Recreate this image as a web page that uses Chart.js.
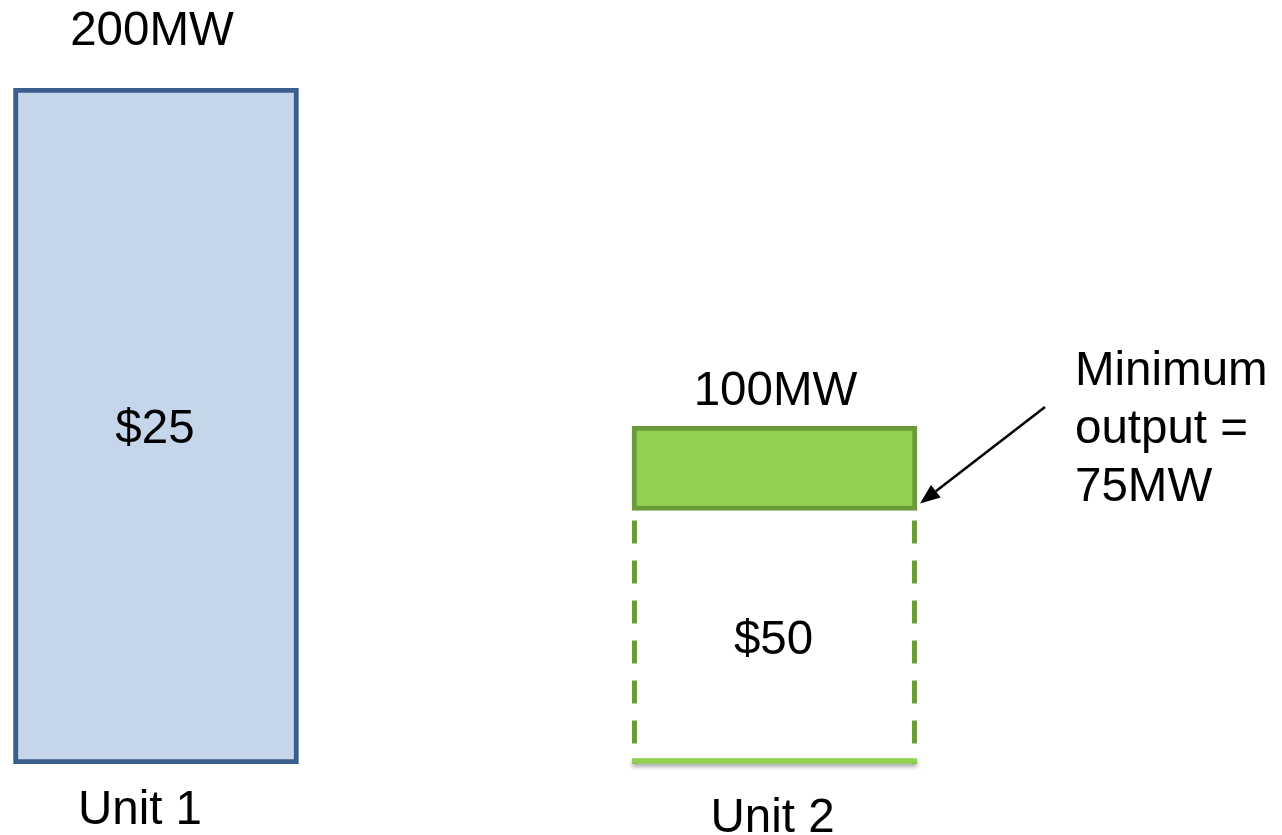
<!DOCTYPE html>
<html lang="en">
<head>
    <meta charset="UTF-8">
    <title>Unit dispatch</title>
    <script src="https://cdn.jsdelivr.net/npm/chart.js"></script>
    <style>
        html, body { margin: 0; padding: 0; background: #ffffff; }
        #wrap { width: 1282px; height: 835px; position: relative; }
    </style>
</head>
<body>
    <div id="wrap"><canvas id="chart"></canvas></div>

    <script>
        // generating units and their blocks (MW)
        const units = ['Unit 1', 'Unit 2'];
        const capacity = [200, 100];
        const minOutput = [null, 75];
        const prices = ['$25', '$50'];
        const noteLines = ['Minimum', 'output =', '75MW'];

        const FONT = '47.5px "Liberation Sans", Arial, sans-serif';

        // Unit 2 is split into the must-run block and the flexible part above it
        const unit1Pts = [{ x: 0, y: capacity[0] }];
        const minPts = [{ x: 1, y: minOutput[1] }];
        const flexPts = [{ x: 1, y: capacity[1] - minOutput[1] }];

        const labelsPlugin = {
            id: 'unitLabels',
            afterDatasetsDraw(chart) {
                const ctx = chart.ctx;
                const yScale = chart.scales.y;
                const base = yScale.getPixelForValue(0);
                const b1 = chart.getDatasetMeta(0).data[0];
                const bMin = chart.getDatasetMeta(1).data[0];
                const bFlex = chart.getDatasetMeta(2).data[0];

                // dashed outline of the minimum-output block
                const left = bMin.x - bMin.width / 2;
                const right = bMin.x + bMin.width / 2;
                ctx.save();
                ctx.strokeStyle = '#6a9a3a';
                ctx.lineWidth = 5;
                ctx.setLineDash([23, 17]);
                ctx.lineDashOffset = -10;
                ctx.beginPath();
                ctx.moveTo(left + 2.5, bMin.y);
                ctx.lineTo(left + 2.5, base);
                ctx.moveTo(right - 2.5, bMin.y);
                ctx.lineTo(right - 2.5, base);
                ctx.stroke();
                ctx.setLineDash([]);
                ctx.shadowColor = 'rgba(0,0,0,0.35)';
                ctx.shadowBlur = 4;
                ctx.shadowOffsetY = 3;
                ctx.strokeStyle = '#92d050';
                ctx.lineWidth = 5.5;
                ctx.beginPath();
                ctx.moveTo(left, base - 3);
                ctx.lineTo(right, base - 3);
                ctx.stroke();
                ctx.restore();

                ctx.save();
                ctx.font = FONT;
                ctx.fillStyle = '#000000';
                ctx.textAlign = 'center';
                ctx.textBaseline = 'alphabetic';

                // capacity above each bar
                ctx.fillText(capacity[0] + 'MW', b1.x - 4, b1.y - 43);
                ctx.fillText(capacity[1] + 'MW', bFlex.x + 1, bFlex.y - 21);

                // offer prices inside the bars
                ctx.fillText(prices[0], b1.x - 1, (b1.y + base) / 2 + 17);
                ctx.fillText(prices[1], bMin.x - 1, (bMin.y + base) / 2 + 17);

                // unit names under the bars
                ctx.fillText(units[0], b1.x - 16, base + 60);
                ctx.fillText(units[1], bMin.x - 2, base + 68);

                // note about the minimum output
                ctx.textAlign = 'left';
                noteLines.forEach((t, i) => ctx.fillText(t, 1075, 385 + i * 58));

                // arrow pointing at the top of the must-run block
                const tipX = right + 3, tipY = bMin.y - 7;
                const fromX = 1045, fromY = 407;
                const ang = Math.atan2(tipY - fromY, tipX - fromX);
                const headLen = 20, headW = 8;
                const hx = tipX - headLen * Math.cos(ang);
                const hy = tipY - headLen * Math.sin(ang);
                ctx.strokeStyle = '#000000';
                ctx.lineWidth = 2.5;
                ctx.beginPath();
                ctx.moveTo(fromX, fromY);
                ctx.lineTo(hx, hy);
                ctx.stroke();
                ctx.beginPath();
                ctx.moveTo(tipX, tipY);
                ctx.lineTo(hx + headW * Math.sin(ang), hy - headW * Math.cos(ang));
                ctx.lineTo(hx - headW * Math.sin(ang), hy + headW * Math.cos(ang));
                ctx.closePath();
                ctx.fill();
                ctx.restore();
            }
        };

        new Chart(document.getElementById('chart'), {
            type: 'bar',
            data: {
                datasets: [
                    {
                        label: units[0],
                        data: unit1Pts,
                        backgroundColor: '#c5d5ea',
                        borderColor: '#3b5e8c',
                        borderWidth: 5,
                        borderSkipped: false
                    },
                    {
                        label: units[1] + ' minimum',
                        data: minPts,
                        backgroundColor: 'rgba(255,255,255,0)',
                        borderWidth: 0
                    },
                    {
                        label: units[1],
                        data: flexPts,
                        backgroundColor: '#92d050',
                        borderColor: '#6a9a3a',
                        borderWidth: 5,
                        borderSkipped: false
                    }
                ]
            },
            options: {
                responsive: true,
                maintainAspectRatio: false,
                animation: false,
                datasets: { bar: { barThickness: 285 } },
                layout: { padding: { top: 88, bottom: 71, left: 0, right: 0 } },
                plugins: {
                    legend: { display: false },
                    tooltip: { enabled: false }
                },
                scales: {
                    x: {
                        type: 'linear',
                        display: false,
                        offset: false,
                        stacked: true,
                        min: -0.2522,
                        max: 1.8205
                    },
                    y: {
                        display: false,
                        stacked: true,
                        min: 0,
                        max: 200
                    }
                }
            },
            plugins: [labelsPlugin]
        });
    </script>
</body>
</html>
